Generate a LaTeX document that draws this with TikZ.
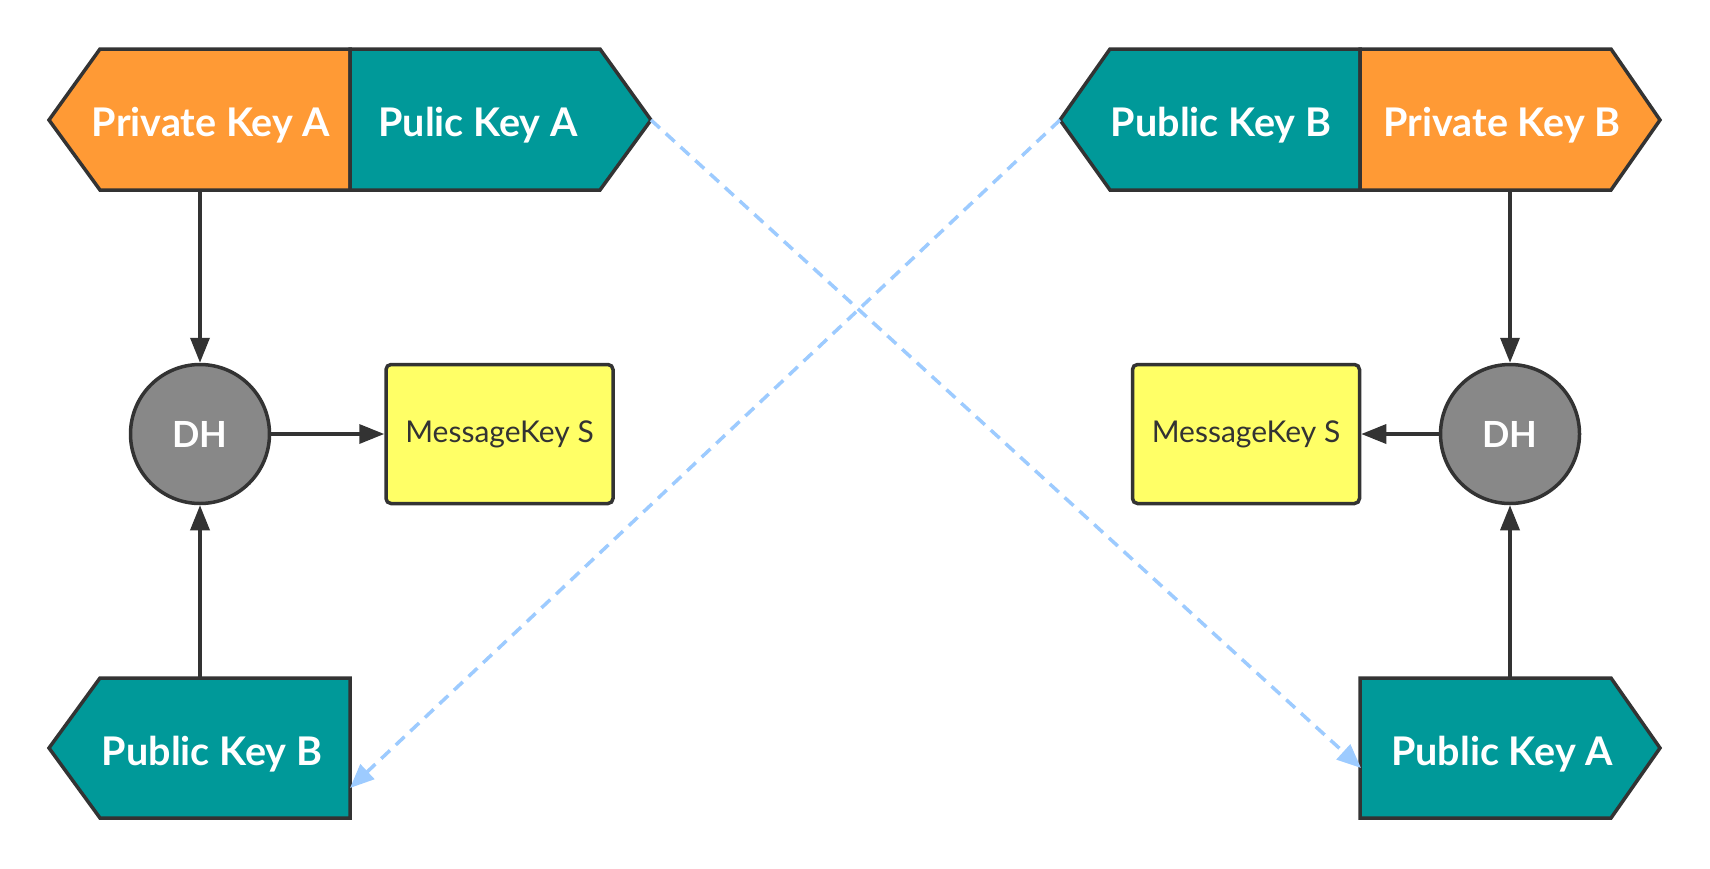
\documentclass[tikz,border=0pt]{standalone}
\usepackage{fontspec}
\setmainfont{Lato}
\usetikzlibrary{arrows.meta}
\definecolor{korange}{HTML}{FF9A35}
\definecolor{kteal}{HTML}{009999}
\definecolor{kgray}{HTML}{888888}
\definecolor{kyellow}{HTML}{FFFF66}
\definecolor{kstroke}{HTML}{333333}
\definecolor{kblue}{HTML}{9DCBFF}
\begin{document}
\begin{tikzpicture}[x=1pt,y=-1pt,
  keyshape/.style={draw=kstroke,line width=3.5pt,line join=miter},
  keytext/.style={text=white,font=\fontsize{39.5}{46}\selectfont\bfseries,inner sep=0pt},
  dhnode/.style={circle,draw=kstroke,fill=kgray,line width=3.5pt,minimum size=139pt,inner sep=0pt,text=white,font=\fontsize{36}{42}\selectfont\bfseries},
  msgnode/.style={rectangle,rounded corners=5pt,draw=kstroke,fill=kyellow,line width=3.5pt,minimum width=227pt,minimum height=139pt,inner sep=0pt,text=kstroke,font=\fontsize{30}{36}\selectfont},
  solidarrow/.style={draw=kstroke,line width=3.5pt,-{Triangle[length=25pt,width=19pt]}},
  dasharrow/.style={draw=kblue,line width=3.5pt,dash pattern=on 12pt off 8pt,-{Triangle[length=24pt,width=20pt]}},
]
\useasboundingbox (0,0) rectangle (1710,868);

% top left pair
\draw[keyshape,fill=korange] (350,49) -- (100,49) -- (49,120) -- (100,190) -- (350,190) -- cycle;
\draw[keyshape,fill=kteal] (350,49) -- (600,49) -- (651,120) -- (600,190) -- (350,190) -- cycle;
\node[keytext] (privA) at (211,125) {Private Key A};
\node[keytext] (pubA) at (478,125) {Pulic Key A};
\coordinate (privAout) at (200,190);
\coordinate (pubAtip) at (651,120);

% top right pair
\draw[keyshape,fill=kteal] (1360,49) -- (1110,49) -- (1060,120) -- (1110,190) -- (1360,190) -- cycle;
\draw[keyshape,fill=korange] (1360,49) -- (1611,49) -- (1660,120) -- (1611,190) -- (1360,190) -- cycle;
\node[keytext] (pubB) at (1221,125) {Public Key B};
\node[keytext] (privB) at (1502,125) {Private Key B};
\coordinate (privBout) at (1510,190);
\coordinate (pubBtip) at (1060,120);

% bottom left
\draw[keyshape,fill=kteal] (350,678) -- (100,678) -- (49,748) -- (100,818) -- (350,818) -- cycle;
\node[keytext] (pubB2) at (212,754) {Public Key B};
\coordinate (pubB2top) at (200,678);
\coordinate (pubB2in) at (350,788);

% bottom right
\draw[keyshape,fill=kteal] (1360,678) -- (1611,678) -- (1660,748) -- (1611,818) -- (1360,818) -- cycle;
\node[keytext] (pubA2) at (1502,754) {Public Key A};
\coordinate (pubA2top) at (1510,678);
\coordinate (pubA2in) at (1361,768);

% DH and message keys
\node[dhnode] (dhA) at (200,434) {DH};
\node[msgnode] (msgA) at (499.5,434) {MessageKey S};
\node[dhnode] (dhB) at (1510,434) {DH};
\node[msgnode] (msgB) at (1246,434) {MessageKey S};

% solid arrows
\draw[solidarrow] (privAout) -- (dhA);
\draw[solidarrow] (pubB2top) -- (dhA);
\draw[solidarrow] (dhA) -- (msgA);
\draw[solidarrow] (privBout) -- (dhB);
\draw[solidarrow] (pubA2top) -- (dhB);
\draw[solidarrow] (dhB) -- (msgB);

% dashed arrows
\draw[dasharrow] (pubAtip) -- (pubA2in);
\draw[dasharrow] (pubBtip) -- (pubB2in);
\end{tikzpicture}
\end{document}
